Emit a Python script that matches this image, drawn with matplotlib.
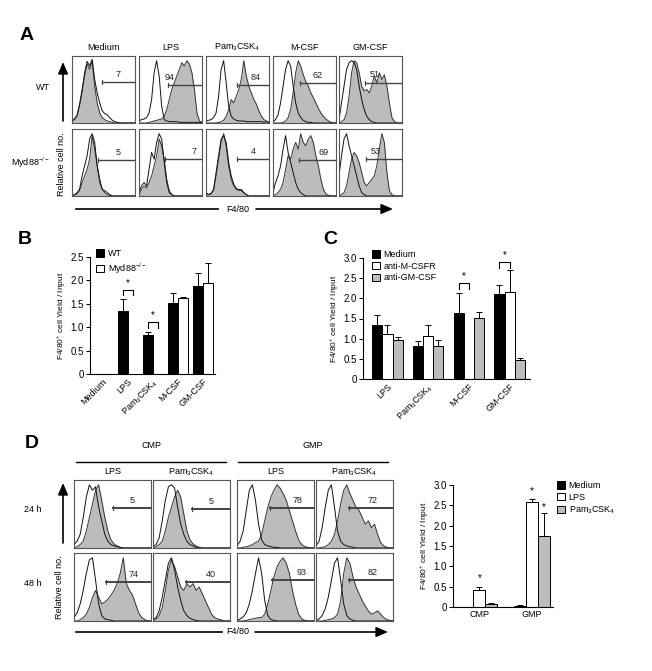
import matplotlib
matplotlib.use('Agg')
import matplotlib.pyplot as plt
import numpy as np
from matplotlib.patches import Patch, FancyArrowPatch
from matplotlib.lines import Line2D

plt.rcParams['font.family'] = ['Liberation Sans', 'DejaVu Sans']
plt.rcParams['mathtext.default'] = 'regular'

W, H = 652, 671
GRAY = '#bcbcbc'
PAM = 'Pam$_3$CSK$_4$'

# ---------------- panel A: flow histograms (WT row, Myd88-/- row) ----------------
a_titles = ['Medium', 'LPS', PAM, 'M-CSF', 'GM-CSF']
a_rows = ['WT', 'Myd88$^{-/-}$']

a_open = [
    [[0.05, 0.06, 0.12, 0.28, 0.50, 0.75, 0.92, 0.85, 0.95, 0.65, 0.45, 0.30, 0.18, 0.14, 0.12, 0.08, 0.04, 0.02, 0.01, 0, 0, 0, 0, 0, 0, 0],
     [0.03, 0.05, 0.06, 0.08, 0.15, 0.35, 0.75, 0.93, 0.70, 0.25, 0.05, 0.03, 0.02, 0.02, 0.02, 0.02, 0.01, 0.01, 0.01, 0.01, 0.01, 0.01, 0.01, 0.01, 0.01, 0.01],
     [0.03, 0.04, 0.05, 0.08, 0.15, 0.40, 0.80, 0.93, 0.60, 0.25, 0.10, 0.06, 0.04, 0.03, 0.03, 0.03, 0.02, 0.02, 0.02, 0.02, 0.02, 0.02, 0.02, 0.01, 0.02, 0.01],
     [0.02, 0.05, 0.12, 0.30, 0.55, 0.80, 0.93, 0.85, 0.55, 0.30, 0.15, 0.08, 0.04, 0.02, 0.01, 0.01, 0, 0, 0, 0, 0, 0, 0, 0, 0, 0],
     [0.05, 0.30, 0.55, 0.80, 0.90, 0.93, 0.90, 0.80, 0.55, 0.35, 0.20, 0.10, 0.05, 0.02, 0.01, 0, 0, 0, 0, 0, 0, 0, 0, 0, 0, 0]],
    [[0, 0.02, 0.05, 0.10, 0.30, 0.45, 0.60, 0.85, 0.93, 0.80, 0.45, 0.25, 0.10, 0.08, 0.05, 0.02, 0, 0, 0, 0, 0, 0, 0, 0, 0, 0],
     [0.05, 0.15, 0.20, 0.15, 0.40, 0.65, 0.55, 0.80, 0.93, 0.85, 0.50, 0.20, 0.05, 0.02, 0, 0, 0, 0, 0, 0, 0, 0, 0, 0, 0, 0],
     [0.05, 0.02, 0.04, 0.10, 0.35, 0.60, 0.85, 0.90, 0.80, 0.50, 0.30, 0.18, 0.10, 0.10, 0.08, 0.05, 0.02, 0, 0, 0, 0, 0, 0, 0, 0, 0],
     [0.05, 0.20, 0.30, 0.45, 0.70, 0.90, 0.65, 0.50, 0.35, 0.20, 0.10, 0.05, 0.02, 0, 0, 0, 0, 0, 0, 0, 0, 0, 0, 0, 0, 0],
     [0.30, 0.60, 0.85, 0.93, 0.75, 0.60, 0.45, 0.30, 0.15, 0.05, 0.02, 0, 0, 0, 0, 0, 0, 0, 0, 0, 0, 0, 0, 0, 0, 0]],
]
a_filled = [
    [[0.02, 0.05, 0.10, 0.25, 0.45, 0.70, 0.88, 0.80, 0.92, 0.55, 0.30, 0.15, 0.08, 0.05, 0.03, 0.02, 0.01, 0, 0, 0, 0, 0, 0, 0, 0, 0],
     [0, 0, 0, 0, 0.01, 0.02, 0.03, 0.04, 0.05, 0.06, 0.10, 0.20, 0.35, 0.50, 0.60, 0.70, 0.80, 0.90, 0.85, 0.93, 0.88, 0.75, 0.50, 0.15, 0.03, 0.01],
     [0, 0, 0, 0, 0, 0.01, 0.02, 0.04, 0.10, 0.20, 0.35, 0.30, 0.40, 0.50, 0.65, 0.93, 0.70, 0.55, 0.45, 0.35, 0.28, 0.18, 0.10, 0.05, 0.03, 0.01],
     [0, 0, 0, 0, 0.01, 0.03, 0.08, 0.20, 0.45, 0.75, 0.93, 0.85, 0.72, 0.62, 0.55, 0.45, 0.38, 0.30, 0.22, 0.15, 0.10, 0.06, 0.03, 0.01, 0, 0],
     [0, 0.02, 0.05, 0.15, 0.40, 0.75, 0.93, 0.90, 0.75, 0.55, 0.48, 0.50, 0.45, 0.55, 0.70, 0.60, 0.75, 0.65, 0.72, 0.55, 0.30, 0.08, 0.02, 0, 0, 0]],
    [[0, 0.02, 0.03, 0.08, 0.20, 0.30, 0.40, 0.55, 0.90, 0.70, 0.45, 0.20, 0.10, 0.05, 0.02, 0.01, 0, 0, 0, 0, 0, 0, 0, 0, 0, 0],
     [0.02, 0.10, 0.15, 0.12, 0.20, 0.30, 0.45, 0.60, 0.85, 0.75, 0.55, 0.25, 0.08, 0.02, 0, 0, 0, 0, 0, 0, 0, 0, 0, 0, 0, 0],
     [0.05, 0.02, 0.03, 0.08, 0.30, 0.55, 0.80, 0.93, 0.75, 0.45, 0.25, 0.15, 0.12, 0.08, 0.10, 0.05, 0.02, 0, 0, 0, 0, 0, 0, 0, 0, 0],
     [0, 0.02, 0.05, 0.10, 0.20, 0.40, 0.60, 0.55, 0.70, 0.80, 0.70, 0.93, 0.80, 0.75, 0.85, 0.90, 0.80, 0.60, 0.45, 0.25, 0.10, 0.03, 0.01, 0, 0, 0],
     [0, 0.02, 0.05, 0.15, 0.35, 0.55, 0.65, 0.60, 0.50, 0.35, 0.20, 0.15, 0.20, 0.25, 0.30, 0.45, 0.70, 0.93, 0.80, 0.35, 0.08, 0.02, 0, 0, 0, 0]],
]
# gate start (fraction of F4/80 axis) and % positive
a_gate_start = [[0.47, 0.46, 0.49, 0.43, 0.41], [0.41, 0.42, 0.49, 0.41, 0.43]]
a_gate_pct = [['7', '94', '84', '62', '51'], ['5', '7', '4', '69', '53']]

# ---------------- panel B ----------------
b_groups = ['Medium', 'LPS', PAM, 'M-CSF', 'GM-CSF']
b_wt = [0.0, 1.35, 0.83, 1.52, 1.89]
b_wt_err = [0.0, 0.25, 0.06, 0.21, 0.27]
b_ko = [0.0, 0.0, 0.0, 1.62, 1.94]
b_ko_err = [0.0, 0.0, 0.0, 0.02, 0.44]

# ---------------- panel C ----------------
c_groups = ['LPS', PAM, 'M-CSF', 'GM-CSF']
c_medium = [1.33, 0.83, 1.63, 2.11]
c_medium_err = [0.25, 0.10, 0.50, 0.23]
c_amcsfr = [1.11, 1.06, 0.01, 2.16]
c_amcsfr_err = [0.22, 0.29, 0.0, 0.55]
c_agmcsf = [0.96, 0.83, 1.51, 0.48]
c_agmcsf_err = [0.08, 0.13, 0.15, 0.03]

# ---------------- panel D histograms ----------------
d_cols = ['LPS', PAM, 'LPS', PAM]
d_rows = ['24 h', '48 h']
d_open = [
    [[0.05, 0.10, 0.20, 0.45, 0.75, 0.93, 0.85, 0.90, 0.60, 0.40, 0.20, 0.10, 0.05, 0.03, 0.02, 0.01, 0, 0, 0, 0, 0, 0, 0, 0, 0, 0],
     [0.02, 0.05, 0.15, 0.40, 0.70, 0.90, 0.93, 0.88, 0.60, 0.35, 0.20, 0.10, 0.05, 0.03, 0.01, 0, 0, 0, 0, 0, 0, 0, 0, 0, 0, 0],
     [0.03, 0.10, 0.25, 0.55, 0.85, 0.93, 0.70, 0.35, 0.12, 0.05, 0.03, 0.02, 0.01, 0.01, 0, 0, 0, 0, 0, 0, 0, 0, 0, 0, 0, 0],
     [0.03, 0.10, 0.30, 0.60, 0.85, 0.93, 0.60, 0.25, 0.10, 0.05, 0.03, 0.02, 0.01, 0, 0, 0, 0, 0, 0, 0, 0, 0, 0, 0, 0, 0]],
    [[0.05, 0.12, 0.25, 0.45, 0.70, 0.90, 0.93, 0.60, 0.25, 0.08, 0.03, 0.02, 0.01, 0, 0, 0, 0, 0, 0, 0, 0, 0, 0, 0, 0, 0],
     [0.02, 0.05, 0.15, 0.35, 0.60, 0.85, 0.93, 0.75, 0.50, 0.30, 0.15, 0.08, 0.04, 0.02, 0.01, 0, 0, 0, 0, 0, 0, 0, 0, 0, 0, 0],
     [0.01, 0.03, 0.06, 0.12, 0.25, 0.45, 0.70, 0.93, 0.70, 0.30, 0.08, 0.02, 0.01, 0, 0, 0, 0, 0, 0, 0, 0, 0, 0, 0, 0, 0],
     [0.01, 0.03, 0.08, 0.18, 0.35, 0.60, 0.85, 0.93, 0.60, 0.25, 0.08, 0.03, 0.01, 0, 0, 0, 0, 0, 0, 0, 0, 0, 0, 0, 0, 0]],
]
d_filled = [
    [[0, 0.02, 0.05, 0.10, 0.25, 0.45, 0.65, 0.85, 0.93, 0.70, 0.45, 0.25, 0.12, 0.06, 0.03, 0.01, 0, 0, 0, 0, 0, 0, 0, 0, 0, 0],
     [0, 0.02, 0.05, 0.10, 0.25, 0.45, 0.60, 0.75, 0.85, 0.75, 0.50, 0.25, 0.12, 0.06, 0.03, 0.01, 0, 0, 0, 0, 0, 0, 0, 0, 0, 0],
     [0, 0, 0.01, 0.02, 0.03, 0.05, 0.08, 0.10, 0.20, 0.40, 0.60, 0.75, 0.85, 0.93, 0.88, 0.80, 0.70, 0.55, 0.40, 0.25, 0.12, 0.05, 0.02, 0.01, 0, 0],
     [0, 0, 0.01, 0.02, 0.05, 0.10, 0.20, 0.40, 0.65, 0.85, 0.93, 0.80, 0.70, 0.60, 0.55, 0.45, 0.35, 0.40, 0.30, 0.35, 0.20, 0.08, 0.03, 0.01, 0, 0]],
    [[0, 0, 0.02, 0.05, 0.10, 0.20, 0.35, 0.45, 0.35, 0.25, 0.28, 0.32, 0.38, 0.45, 0.55, 0.70, 0.93, 0.55, 0.45, 0.38, 0.25, 0.12, 0.05, 0.02, 0, 0],
     [0, 0.03, 0.08, 0.20, 0.45, 0.75, 0.90, 0.80, 0.65, 0.50, 0.45, 0.55, 0.50, 0.55, 0.45, 0.50, 0.40, 0.30, 0.20, 0.10, 0.05, 0.03, 0.02, 0, 0, 0],
     [0, 0, 0, 0.01, 0.02, 0.03, 0.04, 0.05, 0.05, 0.10, 0.25, 0.45, 0.65, 0.80, 0.88, 0.93, 0.85, 0.70, 0.45, 0.25, 0.10, 0.03, 0.01, 0, 0, 0],
     [0, 0, 0, 0.01, 0.02, 0.03, 0.05, 0.10, 0.30, 0.70, 0.93, 0.85, 0.65, 0.50, 0.40, 0.30, 0.22, 0.15, 0.10, 0.12, 0.15, 0.10, 0.05, 0.02, 0.01, 0]],
]
d_gate_start = [[0.50, 0.50, 0.43, 0.43], [0.42, 0.43, 0.45, 0.43]]
d_gate_pct = [['5', '5', '78', '72'], ['74', '40', '93', '82']]

# ---------------- panel D bars ----------------
d_groups = ['CMP', 'GMP']
d_medium = [0.0, 0.03]
d_medium_err = [0.0, 0.02]
d_lps = [0.43, 2.58]
d_lps_err = [0.07, 0.07]
d_pam = [0.07, 1.74]
d_pam_err = [0.02, 0.56]

fig = plt.figure(figsize=(W / 100, H / 100), dpi=100)


def px_axes(x0, y0, x1, y1):
    return fig.add_axes([x0 / W, 1 - y1 / H, (x1 - x0) / W, (y1 - y0) / H])


def ftext(x, y, s, **kw):
    kw.setdefault('ha', 'center')
    kw.setdefault('va', 'center')
    fig.text(x / W, 1 - y / H, s, **kw)


def fline(x0, y0, x1, y1, lw=1.2):
    fig.add_artist(Line2D([x0 / W, x1 / W], [1 - y0 / H, 1 - y1 / H], transform=fig.transFigure, color='k', lw=lw))


def farrow(x0, y0, x1, y1):
    fig.add_artist(FancyArrowPatch((x0 / W, 1 - y0 / H), (x1 / W, 1 - y1 / H), transform=fig.transFigure,
                                   arrowstyle='-|>,head_length=0.7,head_width=0.3', mutation_scale=10,
                                   lw=1.2, color='k', shrinkA=0, shrinkB=0))


def histo(x0, y0, w, h, open_y, fill_y, gstart, gy, pct, px, py, glw=1.0):
    ax = px_axes(x0, y0, x0 + w, y0 + h)
    xs = np.linspace(0, 1, len(fill_y))
    ax.fill_between(xs, fill_y, color=GRAY, lw=0)
    ax.plot(xs, fill_y, color='#333333', lw=0.7)
    ax.plot(xs, open_y, color='#111111', lw=0.7)
    ax.plot([gstart, 1], [gy, gy], color='#444444', lw=glw)
    ax.plot([gstart, gstart], [gy - 0.03, gy + 0.03], color='#444444', lw=0.8)
    ax.text(px, py, pct, fontsize=6.5, ha='center', va='center', color='#222222')
    ax.set_xlim(0, 1)
    ax.set_ylim(0, 1)
    ax.set_xticks([])
    ax.set_yticks([])
    for s in ax.spines.values():
        s.set_linewidth(0.8)
        s.set_color('#555555')
    return ax


def bar_style(ax, top, step):
    ax.spines['right'].set_visible(False)
    ax.spines['top'].set_visible(False)
    ax.spines['left'].set_linewidth(0.8)
    ax.spines['bottom'].set_linewidth(0.8)
    ticks = np.arange(0, top + 0.01, step)
    ax.set_yticks(ticks)
    ax.set_yticklabels(['0' if t == 0 else '%.1f' % t for t in ticks])
    ax.set_ylim(0, top)
    ax.tick_params(axis='y', direction='out', length=3, width=0.7, labelsize=7, pad=1.5)
    ax.tick_params(axis='x', length=0, labelsize=6.5, pad=2)
    ax.set_ylabel('F4/80$^{+}$ cell Yield / Input', fontsize=6, labelpad=2)


def bracket(ax, x1, x2, y0, y1, star_y):
    ax.plot([x1, x1, x2, x2], [y0, y1, y1, y0], color='k', lw=0.8)
    ax.text((x1 + x2) / 2, star_y, '*', ha='center', va='center', fontsize=7)


# ---- panel A ----
ftext(27, 36, 'A', fontsize=14, fontweight='bold')
a_left = [72, 139, 206, 273, 339]
a_top = [56, 129]
a_gate_y = [[0.61, 0.56, 0.56, 0.59, 0.60], [0.53, 0.55, 0.55, 0.53, 0.55]]
a_pct_x = [[0.73, 0.49, 0.79, 0.71, 0.56], [0.74, 0.88, 0.75, 0.81, 0.58]]
for r in range(2):
    for c in range(5):
        histo(a_left[c], a_top[r], 63, 67, a_open[r][c], a_filled[r][c],
              a_gate_start[r][c], a_gate_y[r][c], a_gate_pct[r][c], a_pct_x[r][c], a_gate_y[r][c] + 0.12)
for c in range(5):
    ftext(a_left[c] + 31.5, 47, a_titles[c], fontsize=6.5)
ftext(50, 88, a_rows[0], fontsize=6.5, ha='right')
ftext(50, 163, a_rows[1], fontsize=6.5, ha='right')
farrow(63, 121, 63, 62)
ftext(61, 164, 'Relative cell no.', fontsize=6.5, rotation=90)
fline(76, 209, 218, 209)
ftext(238, 209, 'F4/80', fontsize=6.5)
farrow(256, 209, 393, 209)

# ---- panel B ----
ftext(25, 240, 'B', fontsize=14, fontweight='bold')
axb = px_axes(90, 257, 215, 374)
xb = np.arange(len(b_groups))
bw = 0.4
axb.bar(xb - bw / 2, b_wt, bw, color='k', edgecolor='k', lw=0.7,
        yerr=[np.zeros(len(b_wt)), b_wt_err], capsize=2, error_kw=dict(lw=0.7, capthick=0.7))
axb.bar(xb + bw / 2, b_ko, bw, color='white', edgecolor='k', lw=0.7,
        yerr=[np.zeros(len(b_ko)), b_ko_err], capsize=2, error_kw=dict(lw=0.7, capthick=0.7))
axb.set_xlim(-0.5, len(b_groups) - 0.5)
bar_style(axb, 2.5, 0.5)
axb.set_xticks(xb)
axb.set_xticklabels(b_groups, rotation=45, ha='right', rotation_mode='anchor')
bracket(axb, 1 - bw / 2, 1 + bw / 2, 1.68, 1.80, 1.95)
bracket(axb, 2 - bw / 2, 2 + bw / 2, 0.98, 1.12, 1.26)
axb.legend(handles=[Patch(facecolor='k', edgecolor='k', lw=0.7, label='WT'),
                    Patch(facecolor='white', edgecolor='k', lw=0.7, label=a_rows[1])],
           loc='upper left', bbox_to_anchor=(96 / W, 1 - 249 / H), bbox_transform=fig.transFigure,
           frameon=False, fontsize=6.5, handlelength=0.9, handleheight=0.9, handletextpad=0.4,
           labelspacing=0.35, borderpad=0, borderaxespad=0)

# ---- panel C ----
ftext(330, 240, 'C', fontsize=14, fontweight='bold')
axc = px_axes(363, 258, 530, 379)
xc = np.arange(len(c_groups))
cw = 0.25
for off, vals, errs, col in [(-cw, c_medium, c_medium_err, 'k'), (0, c_amcsfr, c_amcsfr_err, 'white'),
                             (cw, c_agmcsf, c_agmcsf_err, GRAY)]:
    axc.bar(xc + off, vals, cw, color=col, edgecolor='k', lw=0.7,
            yerr=[np.zeros(len(vals)), errs], capsize=2, error_kw=dict(lw=0.7, capthick=0.7))
axc.set_xlim(-0.6, 3.5)
bar_style(axc, 3.0, 0.5)
axc.set_xticks(xc)
axc.set_xticklabels(c_groups, rotation=45, ha='right', rotation_mode='anchor')
bracket(axc, 2 - cw, 2, 2.22, 2.38, 2.55)
bracket(axc, 3 - cw, 3, 2.75, 2.90, 3.08)
axc.legend(handles=[Patch(facecolor='k', edgecolor='k', lw=0.7, label='Medium'),
                    Patch(facecolor='white', edgecolor='k', lw=0.7, label='anti-M-CSFR'),
                    Patch(facecolor=GRAY, edgecolor='k', lw=0.7, label='anti-GM-CSF')],
           loc='upper left', bbox_to_anchor=(372 / W, 1 - 250 / H), bbox_transform=fig.transFigure,
           frameon=False, fontsize=6.5, handlelength=0.9, handleheight=0.9, handletextpad=0.4,
           labelspacing=0.3, borderpad=0, borderaxespad=0)

# ---- panel D histograms ----
ftext(32, 443, 'D', fontsize=14, fontweight='bold')
d_left = [74, 153, 237, 316]
d_top = [480, 553]
d_gate_y = [[0.59, 0.58, 0.59, 0.59], [0.57, 0.57, 0.60, 0.60]]
d_pct_x = [[0.75, 0.75, 0.79, 0.74], [0.77, 0.75, 0.84, 0.74]]
for r in range(2):
    for c in range(4):
        histo(d_left[c], d_top[r], 77, 68, d_open[r][c], d_filled[r][c],
              d_gate_start[r][c], d_gate_y[r][c], d_gate_pct[r][c], d_pct_x[r][c], d_gate_y[r][c] + 0.11,
              glw=1.4)
for c in range(4):
    ftext(d_left[c] + 38.5, 472, d_cols[c], fontsize=6.5)
ftext(151, 445, 'CMP', fontsize=6.5)
fline(76, 462, 226, 462, lw=1.0)
ftext(313, 445, 'GMP', fontsize=6.5)
fline(238, 462, 388, 462, lw=1.0)
ftext(33, 510, d_rows[0], fontsize=6.5)
ftext(33, 584, d_rows[1], fontsize=6.5)
farrow(63, 543, 63, 483)
ftext(60, 587, 'Relative cell no.', fontsize=6.5, rotation=90)
fline(76, 632, 222, 632)
ftext(238, 632, 'F4/80', fontsize=6.5)
farrow(255, 632, 388, 632)

# ---- panel D bars ----
axd = px_axes(453, 485, 553, 607)
xd = np.arange(len(d_groups))
dw = 0.23
for off, vals, errs, col in [(-dw, d_medium, d_medium_err, 'k'), (0, d_lps, d_lps_err, 'white'),
                             (dw, d_pam, d_pam_err, GRAY)]:
    axd.bar(xd + off, vals, dw, color=col, edgecolor='k', lw=0.7,
            yerr=[np.zeros(len(vals)), errs], capsize=2, error_kw=dict(lw=0.7, capthick=0.7))
axd.set_xlim(-0.5, 1.4)
bar_style(axd, 3.0, 0.5)
axd.set_xticks(xd)
axd.set_xticklabels(d_groups)
axd.text(0, 0.70, '*', ha='center', va='center', fontsize=7)
axd.text(1, 2.85, '*', ha='center', va='center', fontsize=7)
axd.text(1 + dw, 2.46, '*', ha='center', va='center', fontsize=7)
axd.legend(handles=[Patch(facecolor='k', edgecolor='k', lw=0.7, label='Medium'),
                    Patch(facecolor='white', edgecolor='k', lw=0.7, label='LPS'),
                    Patch(facecolor=GRAY, edgecolor='k', lw=0.7, label=PAM)],
           loc='upper left', bbox_to_anchor=(557 / W, 1 - 481 / H), bbox_transform=fig.transFigure,
           frameon=False, fontsize=6.5, handlelength=0.9, handleheight=0.9, handletextpad=0.4,
           labelspacing=0.3, borderpad=0, borderaxespad=0)

fig.savefig('out.png', dpi=100)
